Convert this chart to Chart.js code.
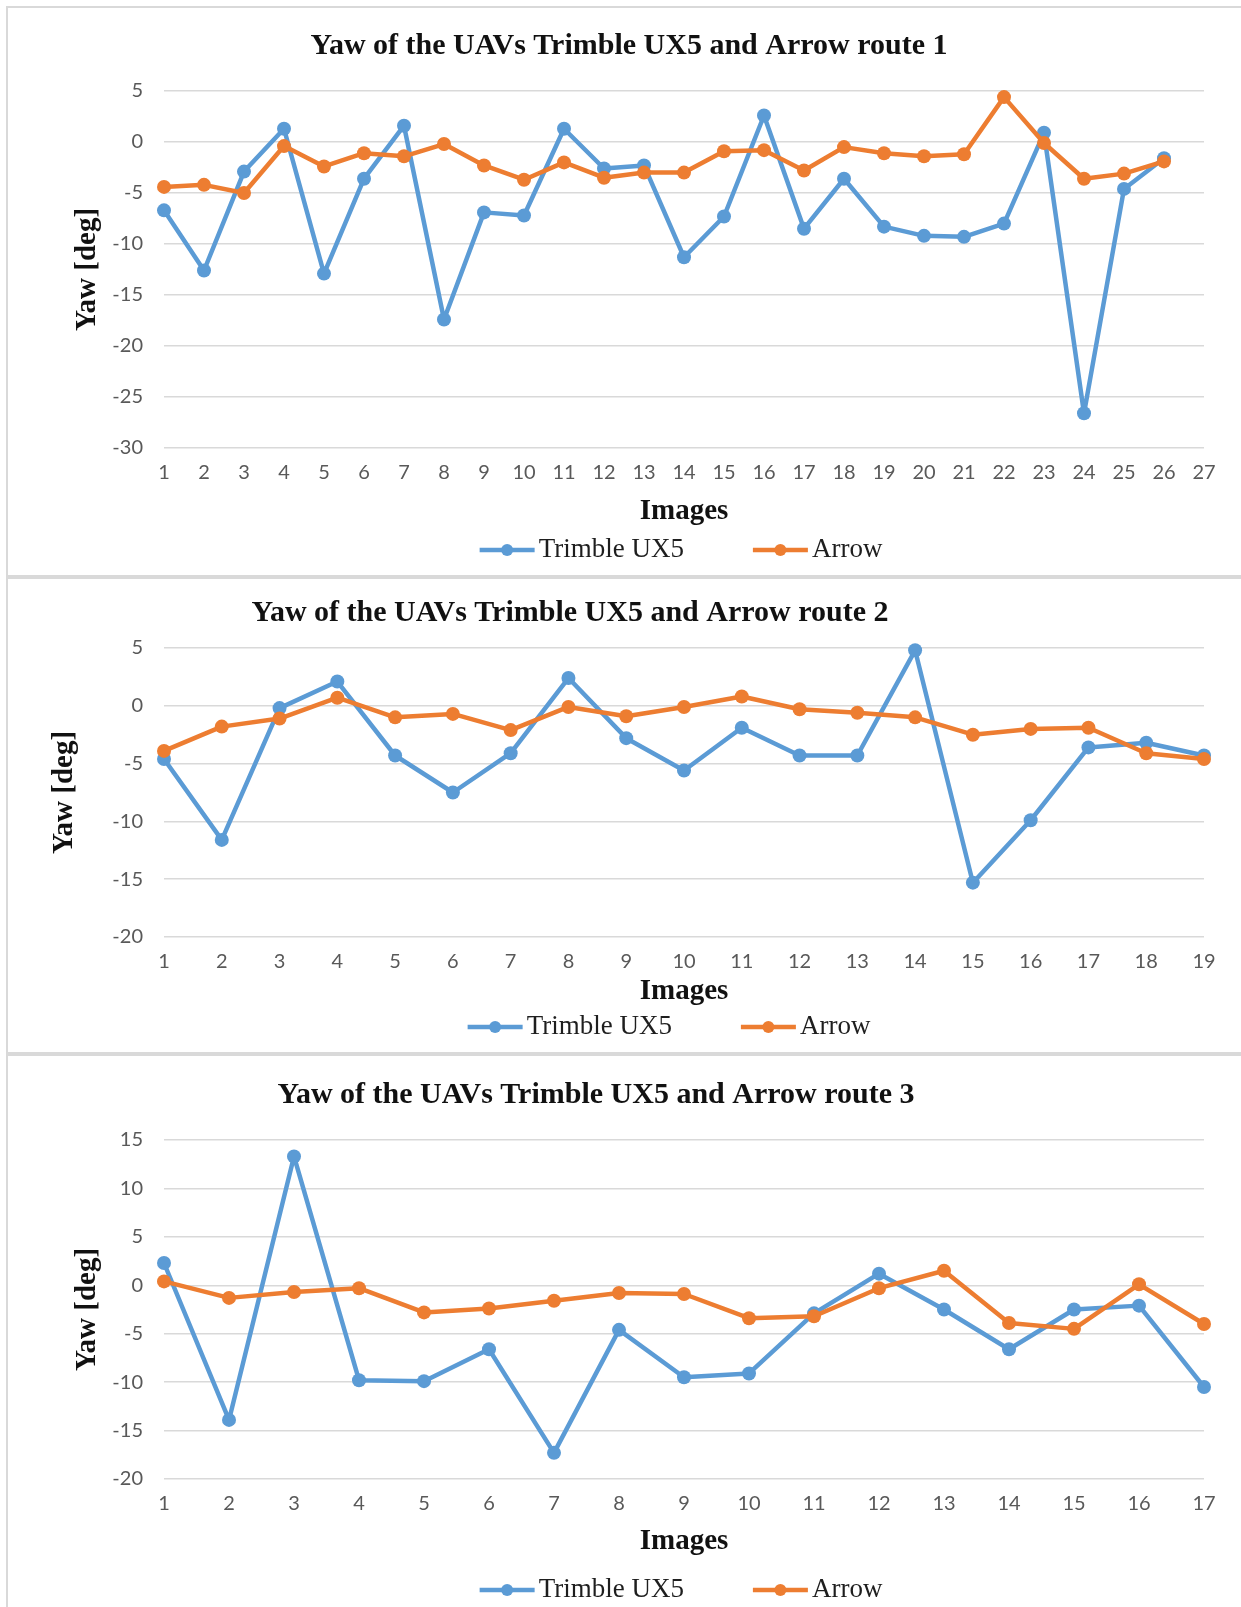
<!DOCTYPE html>
<html>
<head>
<meta charset="utf-8">
<script src="https://cdn.jsdelivr.net/npm/chart.js@4.4.1/dist/chart.umd.min.js"></script>
<style>
html, body { margin: 0; padding: 0; background: #fff; }
body { width: 1241px; height: 1607px; position: relative; overflow: hidden; }
.panel { position: absolute; left: 6px; width: 1300px; border: 2px solid #d9d9d9; }
canvas { position: absolute; }
</style>
</head>
<body>
<div class="panel" style="top:6px;height:567px"></div>
<div class="panel" style="top:577px;height:473px"></div>
<div class="panel" style="top:1054px;height:600px"></div>
<canvas id="route1"></canvas>
<canvas id="route2"></canvas>
<canvas id="route3"></canvas>
<script>
const BLUE = '#5b9bd5';
const ORANGE = '#ed7d31';

// route 1
const route1Images = ['1', '2', '3', '4', '5', '6', '7', '8', '9', '10', '11', '12', '13', '14',
    '15', '16', '17', '18', '19', '20', '21', '22', '23', '24', '25', '26', '27'];
const route1Trimble = [-6.7, -12.6, -2.9, 1.3, -12.9, -3.6, 1.6, -17.4, -6.9, -7.2, 1.3, -2.6, -2.3,
    -11.3, -7.3, 2.6, -8.5, -3.6, -8.3, -9.2, -9.3, -8.0, 0.9, -26.6, -4.6, -1.6];
const route1Arrow = [-4.4, -4.2, -5.0, -0.4, -2.4, -1.1, -1.4, -0.2, -2.3, -3.7, -2.0, -3.5, -3.0,
    -3.0, -0.9, -0.8, -2.8, -0.5, -1.1, -1.4, -1.2, 4.4, -0.1, -3.6, -3.1, -1.9];
const route1YMin = -30, route1YMax = 5;

// route 2
const route2Images = ['1', '2', '3', '4', '5', '6', '7', '8', '9', '10', '11', '12', '13', '14',
    '15', '16', '17', '18', '19'];
const route2Trimble = [-4.6, -11.6, -0.2, 2.1, -4.3, -7.5, -4.1, 2.4, -2.8, -5.6, -1.9, -4.3, -4.3,
    4.8, -15.3, -9.9, -3.6, -3.2, -4.3];
const route2Arrow = [-3.9, -1.8, -1.1, 0.7, -1.0, -0.7, -2.1, -0.1, -0.9, -0.1, 0.8, -0.3, -0.6,
    -1.0, -2.5, -2.0, -1.9, -4.1, -4.6];
const route2YMin = -20, route2YMax = 5;

// route 3
const route3Images = ['1', '2', '3', '4', '5', '6', '7', '8', '9', '10', '11', '12', '13', '14',
    '15', '16', '17'];
const route3Trimble = [2.3, -13.9, 13.3, -9.8, -9.9, -6.6, -17.3, -4.6, -9.5, -9.1, -2.9, 1.2, -2.5,
    -6.6, -2.5, -2.1, -10.5];
const route3Arrow = [0.4, -1.3, -0.7, -0.3, -2.8, -2.4, -1.6, -0.8, -0.9, -3.4, -3.2, -0.3, 1.5,
    -3.9, -4.5, 0.1, -4.0];
const route3YMin = -20, route3YMax = 15;

// page geometry (px in the page)
const PAGE_W = 1241;
const CANVAS_LEFT = -100; // canvas starts off-page so the title can sit off-centre like in excel
const PLOT_LEFT = 164;
const PLOT_RIGHT = 1204;
const TITLE_SIZE = 30;
const AXIS_TITLE_SIZE = 29;
const TICK_SIZE = 20;
const LEGEND_SIZE = 27;

const frames = {
    route1: {top: 8, height: 567, titleX: 629, titleY: 46, plotTop: 91, plotBottom: 448,
        xTitleY: 512, yTitleX: 88, legendX: 681, legendY: 550},
    route2: {top: 579, height: 473, titleX: 570, titleY: 613, plotTop: 648, plotBottom: 937,
        xTitleY: 992, yTitleX: 65, legendX: 669, legendY: 1027},
    route3: {top: 1056, height: 551, titleX: 596, titleY: 1095, plotTop: 1140, plotBottom: 1479,
        xTitleY: 1542, yTitleX: 88, legendX: 681, legendY: 1590},
};

// excel style legend: short line with a marker in the middle
const excelLegend = {
    id: 'excelLegend',
    afterDraw(chart, args, opts) {
        const ctx = chart.ctx;
        ctx.save();
        ctx.font = `${LEGEND_SIZE}px "Liberation Serif"`;
        const items = chart.data.datasets.map(ds => ({
            text: ds.label,
            color: ds.borderColor,
            width: ctx.measureText(ds.label).width
        }));
        const iconW = 55, textGap = 4, itemGap = 69;
        const total = items.reduce((s, it) => s + iconW + textGap + it.width, 0) + itemGap * (items.length - 1);
        let x = opts.x - total / 2;
        const y = opts.y;
        items.forEach(it => {
            ctx.strokeStyle = it.color;
            ctx.lineWidth = 4.5;
            ctx.beginPath();
            ctx.moveTo(x, y);
            ctx.lineTo(x + iconW, y);
            ctx.stroke();
            ctx.fillStyle = it.color;
            ctx.beginPath();
            ctx.arc(x + iconW / 2, y, 6, 0, Math.PI * 2);
            ctx.fill();
            x += iconW + textGap;
            ctx.fillStyle = '#1e1e1e';
            ctx.textBaseline = 'middle';
            ctx.fillText(it.text, x, y);
            x += it.width + itemGap;
        });
        ctx.restore();
    }
};

const buildChart = (id, title, labels, trimble, arrow, yMin, yMax) => {
    const f = frames[id];
    const canvas = document.getElementById(id);
    const W = PAGE_W - CANVAS_LEFT;
    canvas.width = W;
    canvas.height = f.height;
    canvas.style.left = CANVAS_LEFT + 'px';
    canvas.style.top = f.top + 'px';

    const padR = PAGE_W - PLOT_RIGHT;
    const padL = 2 * f.titleX - PLOT_RIGHT - CANVAS_LEFT;
    const yAxisW = PLOT_LEFT - CANVAS_LEFT - padL;
    const titleLH = TITLE_SIZE * 1.2;
    const axisLH = AXIS_TITLE_SIZE * 1.2;
    const titleTop = f.titleY - f.top - titleLH / 2;
    const titleBottom = f.plotTop - f.top - titleLH - titleTop;
    const xAxisBottom = f.xTitleY + axisLH / 2;
    const xAxisH = xAxisBottom - f.plotBottom;
    const padB = f.top + f.height - xAxisBottom;

    const series = (label, data, color, order) => ({
        label: label,
        data: data,
        borderColor: color,
        backgroundColor: color,
        borderWidth: 4.5,
        borderJoinStyle: 'round',
        pointRadius: 7,
        pointBorderWidth: 0,
        pointBackgroundColor: color,
        tension: 0,
        clip: false,
        order: order
    });

    return new Chart(canvas, {
        type: 'line',
        data: {
            labels: labels,
            datasets: [
                series('Trimble UX5', trimble, BLUE, 2),
                series('Arrow', arrow, ORANGE, 1)
            ]
        },
        plugins: [excelLegend],
        options: {
            responsive: false,
            animation: false,
            layout: {padding: {left: padL, right: padR, top: 0, bottom: padB}},
            plugins: {
                legend: {display: false},
                tooltip: {enabled: false},
                title: {
                    display: true,
                    text: title,
                    color: '#111',
                    font: {family: 'Liberation Serif', size: TITLE_SIZE, weight: 'bold'},
                    padding: {top: titleTop, bottom: titleBottom}
                },
                excelLegend: {x: f.legendX - CANVAS_LEFT, y: f.legendY - f.top}
            },
            scales: {
                x: {
                    offset: false,
                    grid: {display: false},
                    border: {display: false},
                    ticks: {
                        color: '#595959',
                        font: {family: 'Lato', size: TICK_SIZE},
                        padding: 5,
                        autoSkip: false,
                        maxRotation: 0
                    },
                    title: {
                        display: true,
                        text: 'Images',
                        color: '#111',
                        font: {family: 'Liberation Serif', size: AXIS_TITLE_SIZE, weight: 'bold'},
                        padding: {top: 0, bottom: 0}
                    },
                    afterFit: (scale) => { scale.height = xAxisH; }
                },
                y: {
                    min: yMin,
                    max: yMax,
                    grid: {color: '#d9d9d9', lineWidth: 1.5, drawTicks: false},
                    border: {display: false},
                    ticks: {
                        stepSize: 5,
                        color: '#595959',
                        font: {family: 'Lato', size: TICK_SIZE},
                        padding: 21
                    },
                    title: {
                        display: true,
                        text: 'Yaw [deg]',
                        color: '#111',
                        font: {family: 'Liberation Serif', size: AXIS_TITLE_SIZE, weight: 'bold'},
                        padding: {top: f.yTitleX - CANVAS_LEFT - padL - axisLH / 2, bottom: 0}
                    },
                    afterFit: (scale) => { scale.width = yAxisW; }
                }
            }
        }
    });
}

buildChart('route1', 'Yaw of the UAVs Trimble UX5 and Arrow route 1', route1Images, route1Trimble, route1Arrow, route1YMin, route1YMax);
buildChart('route2', 'Yaw of the UAVs Trimble UX5 and Arrow route 2', route2Images, route2Trimble, route2Arrow, route2YMin, route2YMax);
buildChart('route3', 'Yaw of the UAVs Trimble UX5 and Arrow route 3', route3Images, route3Trimble, route3Arrow, route3YMin, route3YMax);
</script>
</body>
</html>
